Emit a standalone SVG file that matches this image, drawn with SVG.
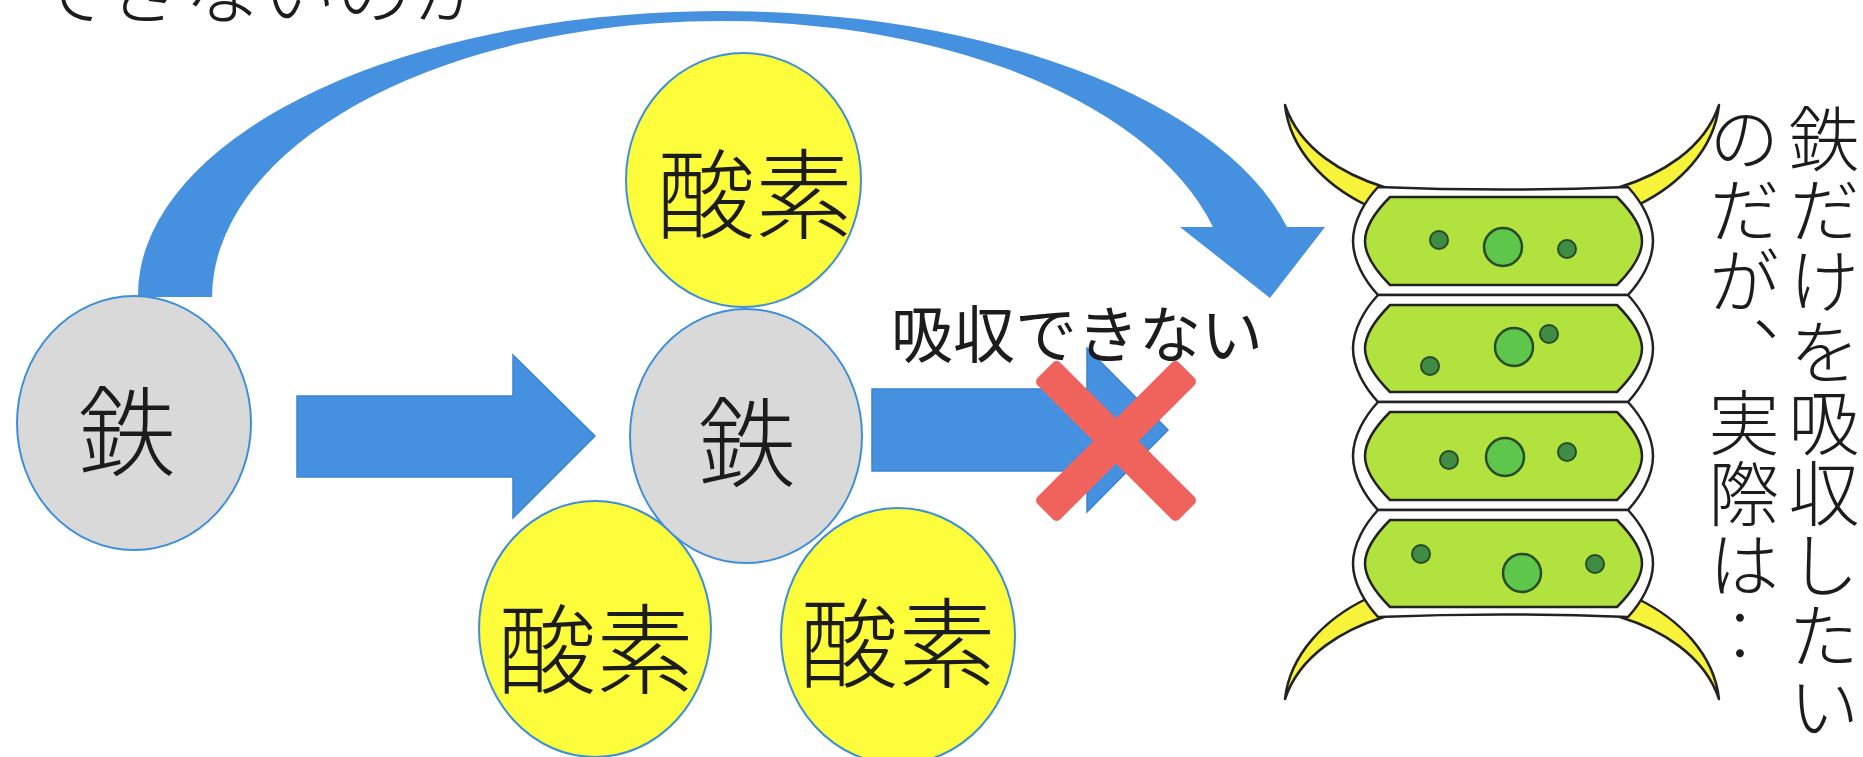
<svg xmlns="http://www.w3.org/2000/svg" width="1863" height="757" viewBox="0 0 1863 757">
  <style>
    .txt { font-family: "Noto Sans CJK JP", "Noto Sans CJK SC", sans-serif; fill: #1c1c1c; }
    .thin { font-weight: 300; }
    .label { font-size: 98px; text-anchor: middle; dominant-baseline: central; }
    .iron { fill: #d9d9d9; stroke: #3e8fd8; stroke-width: 2; }
    .oxy { fill: #fdfd3b; stroke: #3e8fd8; stroke-width: 2; }
    .arrow { fill: #4591e0; }
    .block { fill: #4591e0; stroke: #3a84d0; stroke-width: 1.5; }
    .wall { fill: #ffffff; stroke: #222222; stroke-width: 2.5; stroke-linejoin: round; }
    .proto { fill: #b2e23e; stroke: #222222; stroke-width: 2.5; stroke-linejoin: round; }
    .horn { fill: #f7f23a; stroke: #222222; stroke-width: 2.5; stroke-linejoin: round; }
    .nuc { fill: #5ec64a; stroke: #284a28; stroke-width: 2.5; }
    .gran { fill: #3f8c44; stroke: #284a28; stroke-width: 2; }
    .cross { fill: #f0635d; }
    .vert { font-size: 71px; writing-mode: vertical-rl; }
  </style>
  <defs>
    <path id="horn" d="M 1285,105 C 1290,150 1325,185 1366,205 L 1384,187 C 1345,175 1300,150 1285,105 Z"/>
  </defs>

  <rect width="1863" height="757" fill="#ffffff"/>

  <!-- heading line, cut by the top edge -->
  <text id="heading" class="txt thin" x="32" y="18" font-size="76">できないのか</text>

  <!-- connectors -->
  <g id="connectors">
    <!-- curved arrow from the free iron over to the filament -->
    <path class="arrow" d="M 138,297 A 583,284 0 0 1 1287,227 L 1325,227 L 1270,298 L 1180,227 L 1213,227 A 509,277 0 0 0 212,297 Z"/>
    <!-- iron binding to oxygen -->
    <path class="block" d="M 297,396 L 513,396 L 513,355 L 595,436 L 513,518 L 513,477 L 297,477 Z"/>
    <!-- blocked uptake -->
    <path class="block" d="M 872,389 L 1087,389 L 1087,348 L 1168,430 L 1087,512 L 1087,471 L 872,471 Z"/>
  </g>

  <!-- free iron -->
  <g id="iron-free">
    <ellipse class="iron" cx="134" cy="423" rx="117" ry="127"/>
    <text class="txt thin label" x="127" y="425">鉄</text>
  </g>

  <!-- oxygen atoms bound to iron -->
  <g id="oxygen-top">
    <ellipse class="oxy" cx="743.5" cy="180" rx="117.5" ry="127"/>
    <text class="txt thin label" x="755" y="188">酸素</text>
  </g>
  <g id="oxygen-left">
    <ellipse class="oxy" cx="595" cy="629" rx="116" ry="128"/>
    <text class="txt thin label" x="596" y="643">酸素</text>
  </g>
  <g id="oxygen-right">
    <ellipse class="oxy" cx="898" cy="636" rx="117" ry="128"/>
    <text class="txt thin label" x="898" y="637">酸素</text>
  </g>
  <g id="iron-bound">
    <ellipse class="iron" cx="746" cy="436" rx="116" ry="127"/>
    <text class="txt thin label" x="747" y="436">鉄</text>
  </g>

  <!-- red cross over the blocked arrow -->
  <g id="blocked" transform="translate(1116,441)">
    <rect class="cross" x="-100" y="-16" width="200" height="32" rx="5" transform="rotate(45)"/>
    <rect class="cross" x="-100" y="-16" width="200" height="32" rx="5" transform="rotate(-45)"/>
  </g>
  <text id="blocked-label" class="txt" x="1077" y="331" font-size="62" text-anchor="middle" dominant-baseline="central">吸収できない</text>

  <!-- algal filament -->
  <g id="filament">
    <use href="#horn" class="horn"/>
    <use href="#horn" class="horn" transform="matrix(-1 0 0 1 3004 0)"/>
    <use href="#horn" class="horn" transform="matrix(1 0 0 -1 0 804)"/>
    <use href="#horn" class="horn" transform="matrix(-1 0 0 -1 3004 804)"/>

    <g id="cell-1">
      <path class="wall" d="M 1378,187 Q 1503,192 1628,187 C 1641,201 1653,221 1653,241 C 1653,261 1641,281 1628,295 L 1378,295 C 1365,281 1353,261 1353,241 C 1353,221 1365,201 1378,187 Z"/>
      <path class="proto" d="M 1390,197 L 1617,197 C 1629,209 1642,226 1642,241 C 1642,256 1629,273 1617,285 L 1390,285 C 1378,273 1365,256 1365,241 C 1365,226 1378,209 1390,197 Z"/>
      <circle class="gran" cx="1439" cy="240" r="9"/>
      <circle class="nuc" cx="1503" cy="247" r="19"/>
      <circle class="gran" cx="1567" cy="249" r="9"/>
    </g>
    <g id="cell-2">
      <path class="wall" d="M 1378,295 L 1628,295 C 1641,309 1653,329 1653,348.5 C 1653,368 1641,388 1628,402 L 1378,402 C 1365,388 1353,368 1353,348.5 C 1353,329 1365,309 1378,295 Z"/>
      <path class="proto" d="M 1390,305 L 1617,305 C 1629,317 1642,334 1642,348.5 C 1642,363 1629,380 1617,392 L 1390,392 C 1378,380 1365,363 1365,348.5 C 1365,334 1378,317 1390,305 Z"/>
      <circle class="gran" cx="1430" cy="366" r="9"/>
      <circle class="nuc" cx="1514" cy="347" r="19"/>
      <circle class="gran" cx="1549" cy="334" r="9"/>
    </g>
    <g id="cell-3">
      <path class="wall" d="M 1378,402 L 1628,402 C 1641,416 1653,436 1653,456 C 1653,476 1641,496 1628,510 L 1378,510 C 1365,496 1353,476 1353,456 C 1353,436 1365,416 1378,402 Z"/>
      <path class="proto" d="M 1390,412 L 1617,412 C 1629,424 1642,441 1642,456 C 1642,471 1629,488 1617,500 L 1390,500 C 1378,488 1365,471 1365,456 C 1365,441 1378,424 1390,412 Z"/>
      <circle class="gran" cx="1449" cy="460" r="9"/>
      <circle class="nuc" cx="1505" cy="457" r="19"/>
      <circle class="gran" cx="1567" cy="452" r="9"/>
    </g>
    <g id="cell-4">
      <path class="wall" d="M 1378,510 L 1628,510 C 1641,524 1653,544 1653,563.5 C 1653,583 1641,603 1628,617 Q 1503,612 1378,617 C 1365,603 1353,583 1353,563.5 C 1353,544 1365,524 1378,510 Z"/>
      <path class="proto" d="M 1390,520 L 1617,520 C 1629,532 1642,549 1642,563.5 C 1642,578 1629,595 1617,607 L 1390,607 C 1378,595 1365,578 1365,563.5 C 1365,549 1378,532 1390,520 Z"/>
      <circle class="gran" cx="1421" cy="554" r="9"/>
      <circle class="nuc" cx="1522" cy="573" r="19"/>
      <circle class="gran" cx="1595" cy="564" r="9"/>
    </g>
  </g>

  <!-- vertical caption -->
  <g id="caption">
    <text class="txt thin vert" x="1824" y="103">鉄だけを吸収したい</text>
    <text class="txt thin vert" x="1744" y="103">のだが、実際は‥</text>
  </g>
</svg>
